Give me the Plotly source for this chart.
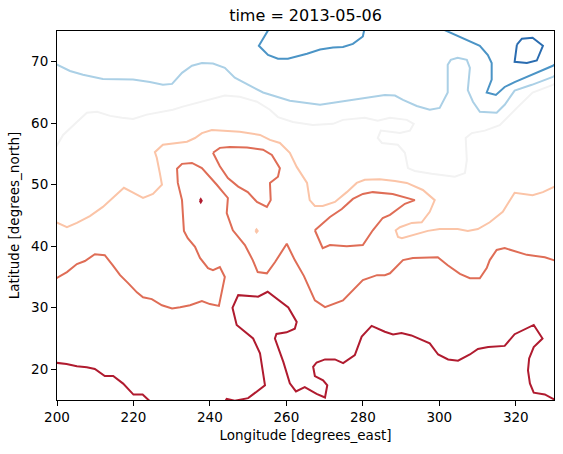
import plotly.graph_objects as go

# Contour levels (air temperature, K) and each traced contour path (lon, lat)
LEVELS = [240, 250, 260, 270, 280, 290, 300]

# level 240 (dark blue) closed loop
l240_a_lon = [320.3, 321.6, 324.4, 327.1, 325.5, 322.9, 319.7, 320.3]
l240_a_lat = [72.8, 73.75, 73.9, 72.6, 70.2, 69.8, 70.0, 72.8]

# level 250 (medium blue)
l250_a_lon = [255.4, 252.8, 255.2, 257.8, 260.4, 265.4, 268.8, 272.2, 274.8, 277.4, 280.0, 280.4]
l250_a_lat = [75.3, 72.6, 71.1, 70.5, 70.5, 71.3, 72.0, 72.3, 72.4, 72.9, 74.1, 75.3]
l250_b_lon = [301.2, 305.9, 310.6, 312.7, 313.7, 313.7, 312.4, 314.8, 317.1, 319.7, 324.4, 329.7, 330.5]
l250_b_lat = [75.2, 73.9, 72.6, 71.1, 69.8, 67.1, 65.0, 64.6, 65.9, 66.7, 67.9, 69.35, 69.7]

# level 260 (light blue)
l260_a_lon = [199.8, 203.4, 206.8, 212.0, 219.9, 224.3, 227.7, 230.1, 232.7, 235.3, 237.9, 240.8,
              243.9, 246.5, 253.9, 260.9, 268.8, 274.0, 280.0, 285.75, 288.4, 290.5, 294.1, 297.5,
              300.1, 302.2, 302.2, 303.0, 304.8, 307.2, 308.0, 307.45, 308.8, 310.6, 315.0, 317.1,
              319.7, 324.2, 329.7, 330.5]
l260_a_lat = [69.6, 68.5, 67.9, 67.2, 67.1, 66.7, 66.25, 66.4, 68.2, 69.35, 69.8, 69.7,
              69.0, 67.4, 65.0, 63.65, 63.0, 63.5, 64.1, 64.6, 64.5, 63.8, 62.8, 62.2,
              62.5, 65.0, 69.5, 70.3, 70.65, 70.3, 69.0, 65.4, 63.5, 61.85, 61.7, 63.0,
              65.3, 66.25, 67.55, 67.8]

# level 270 (near white)
l270_a_lon = [199.8, 201.6, 205.2, 207.8, 210.5, 213.9, 217.0, 219.9, 223.5, 226.9, 230.3, 232.9,
              236.6, 240.8, 243.9, 247.8, 252.3, 255.7, 257.8, 261.7, 266.9, 272.2, 274.8, 280.5,
              283.9, 287.1, 291.5, 293.3, 292.3, 289.7, 284.7, 283.9, 285.0, 289.15, 291.0, 291.8,
              293.6, 298.0, 304.05, 306.7, 307.2, 306.9, 308.5, 311.9, 315.8, 320.3, 324.4, 329.7, 330.5]
l270_a_lat = [56.2, 58.1, 60.2, 61.7, 61.85, 61.2, 60.9, 60.7, 61.4, 61.85, 62.2, 62.7,
              63.3, 64.1, 64.5, 64.3, 63.5, 62.2, 61.0, 60.2, 59.7, 59.9, 60.55, 60.9,
              60.4, 60.9, 60.55, 59.9, 58.8, 58.4, 58.8, 57.6, 56.8, 56.5, 55.2, 52.7,
              52.25, 51.8, 51.3, 51.9, 54.0, 57.6, 58.4, 58.8, 59.7, 62.5, 65.0, 66.25, 66.5]

# level 280 (light peach)
l280_a_lon = [199.8, 202.6, 205.2, 208.6, 212.0, 215.2, 217.5, 219.9, 222.5, 225.1, 227.45, 226.9,
              226.1, 225.6, 227.7, 231.4, 234.0, 236.1, 237.9, 240.5, 243.9, 247.8, 253.1, 255.7,
              258.3, 260.9, 262.7, 265.4, 266.1, 267.45, 269.5, 272.7, 275.8, 278.4, 280.5, 284.4,
              288.4, 291.5, 295.7, 298.8, 297.5, 295.4, 292.8, 289.7, 288.6, 289.2, 290.2, 293.1,
              297.0, 300.1, 304.8, 307.45, 310.1, 313.2, 316.6, 319.7, 321.6, 324.4, 327.1, 329.7, 330.5]
l280_a_lat = [43.9, 43.1, 43.8, 44.9, 46.4, 48.3, 49.5, 48.7, 47.85, 48.5, 50.0, 51.9,
              54.4, 55.3, 56.5, 56.8, 57.0, 57.6, 58.4, 58.9, 58.8, 58.6, 58.1, 57.3,
              56.8, 55.2, 52.9, 50.3, 47.5, 46.55, 46.55, 47.2, 48.8, 50.3, 50.8, 50.9,
              50.6, 50.3, 49.15, 47.5, 45.6, 43.9, 43.8, 43.1, 42.6, 41.5, 41.3, 41.8,
              42.5, 42.8, 42.8, 42.5, 42.8, 43.9, 45.6, 48.7, 48.5, 48.3, 48.8, 49.6, 49.8]
l280_b_lon = [251.9, 252.2, 252.5, 252.2, 251.9]
l280_b_lat = [42.5, 42.75, 42.5, 42.25, 42.5]

# level 290 (salmon)
l290_a_lon = [199.8, 202.6, 205.2, 207.3, 209.9, 212.5, 214.6, 216.5, 218.6, 220.9, 222.5, 224.8,
              227.45, 230.1, 232.2, 234.8, 237.9, 240.0, 242.35, 243.4, 243.9, 242.6, 240.8, 239.5,
              237.4, 236.1, 234.2, 233.2, 232.9, 232.7, 231.6, 231.4, 232.7, 235.3, 237.9, 240.0,
              241.8, 243.4, 244.7, 244.4, 246.0, 249.15, 251.2, 252.5, 254.9, 257.0, 260.1, 262.2,
              264.6, 267.45, 270.1, 274.8, 280.0, 283.7, 285.75, 287.1, 290.5, 293.1, 299.6, 302.2,
              305.4, 308.0, 310.6, 312.4, 313.2, 315.0, 317.1, 322.9, 327.6, 329.9, 330.5]
l290_a_lat = [34.8, 35.8, 37.1, 37.6, 38.7, 38.55, 36.9, 35.3, 34.0, 32.5, 31.7, 31.4,
              30.4, 29.9, 30.1, 30.4, 31.1, 30.6, 30.3, 33.2, 35.0, 36.6, 36.1, 36.45,
              38.1, 39.9, 41.3, 42.5, 45.1, 47.5, 50.3, 52.6, 53.4, 53.55, 52.7, 51.3,
              50.0, 48.8, 47.85, 45.4, 42.6, 40.2, 37.75, 35.8, 35.6, 37.4, 40.4, 37.75,
              35.15, 31.2, 30.1, 31.2, 34.5, 35.3, 35.3, 35.6, 37.75, 38.1, 38.2, 36.9,
              35.5, 34.8, 34.8, 36.45, 37.75, 39.4, 39.7, 38.6, 38.2, 37.75, 37.6]
l290_b_lon = [240.8, 242.6, 245.2, 249.7, 253.9, 256.2, 258.3, 257.8, 255.7, 255.9, 254.9,
              252.3, 249.9, 247.4, 244.7, 242.6, 240.8]
l290_b_lat = [55.2, 56.0, 56.15, 56.05, 55.7, 54.85, 52.7, 51.3, 50.3, 47.5, 46.4,
              47.2, 48.8, 49.7, 51.1, 53.0, 55.2]
l290_c_lon = [267.45, 271.4, 274.5, 277.4, 280.0, 282.6, 287.8, 290.5, 293.6, 291.0, 288.9, 287.1,
              285.2, 282.6, 280.0, 275.8, 271.4, 269.5, 267.45]
l290_c_lat = [42.6, 44.75, 46.05, 47.7, 48.5, 48.8, 48.5, 48.0, 47.5, 46.9, 45.9, 45.1,
              44.6, 42.6, 40.2, 40.0, 40.2, 39.7, 42.6]

# level 300 (dark red)
l300_a_lon = [199.8, 202.5, 205.2, 207.8, 209.9, 212.5, 214.7, 217.3, 220.0, 222.4, 224.3]
l300_a_lat = [21.05, 20.86, 20.5, 20.33, 20.05, 18.9, 18.9, 17.67, 15.88, 15.88, 14.8]
l300_b_lon = [244.0, 244.4, 246.5, 250.0, 254.4, 253.1, 251.3, 247.0, 245.9, 247.4, 252.6, 255.1,
              260.5, 262.7, 262.2, 260.05, 257.4, 257.0, 259.2, 260.9, 262.5, 264.8, 267.9, 270.1,
              270.7, 269.6, 267.45, 267.0, 267.9, 270.1, 272.7, 274.85, 277.9, 279.7, 282.3, 285.75,
              287.9, 290.1, 292.7, 297.5, 299.7, 302.3, 304.9, 308.0, 310.1, 312.8, 317.1, 319.7,
              324.7, 327.0, 324.7, 323.5, 323.2, 323.7, 324.7, 327.6, 329.75, 330.8]
l300_b_lat = [14.8, 15.2, 14.9, 15.3, 17.4, 22.6, 25.0, 27.2, 30.0, 32.05, 31.8, 32.6,
              30.05, 27.7, 26.6, 26.0, 25.75, 25.0, 21.2, 17.7, 16.4, 17.1, 16.0, 15.4,
              17.4, 18.2, 18.9, 20.4, 21.1, 21.6, 21.6, 21.0, 22.3, 25.3, 27.05, 26.1,
              25.65, 25.9, 25.5, 24.2, 22.4, 21.6, 21.4, 22.4, 23.3, 23.6, 23.8, 25.7,
              27.2, 25.0, 23.6, 21.75, 19.8, 17.7, 16.2, 15.9, 15.2, 14.9]
l300_c_lon = [237.35, 237.6, 237.85, 237.6, 237.35]
l300_c_lat = [47.4, 47.65, 47.4, 47.15, 47.4]

CONTOURS = [
    (240, l240_a_lon, l240_a_lat),
    (250, l250_a_lon, l250_a_lat), (250, l250_b_lon, l250_b_lat),
    (260, l260_a_lon, l260_a_lat),
    (270, l270_a_lon, l270_a_lat),
    (280, l280_a_lon, l280_a_lat), (280, l280_b_lon, l280_b_lat),
    (290, l290_a_lon, l290_a_lat), (290, l290_b_lon, l290_b_lat), (290, l290_c_lon, l290_c_lat),
    (300, l300_a_lon, l300_a_lat), (300, l300_b_lon, l300_b_lat), (300, l300_c_lon, l300_c_lat),
]

X_TICKS = [200, 220, 240, 260, 280, 300, 320]
Y_TICKS = [20, 30, 40, 50, 60, 70]

# style
LEVEL_COLORS = {240: "#2a6cb0", 250: "#4b94c6", 260: "#abd0e6", 270: "#f2f2f2",
                280: "#fbc4a7", 290: "#df6d56", 300: "#b01b2f"}

fig = go.Figure()
for lev, lon, lat in CONTOURS:
    fig.add_trace(go.Scatter(x=lon, y=lat, mode="lines",
                             line=dict(color=LEVEL_COLORS[lev], width=2),
                             showlegend=False, hoverinfo="skip"))

font_family = "DejaVu Sans"
axis_common = dict(showline=True, linecolor="black", linewidth=1, mirror=True,
                   ticks="outside", ticklen=5, tickwidth=1, tickcolor="black",
                   showgrid=False, zeroline=False,
                   tickfont=dict(family=font_family, size=13.5, color="black"))

fig.update_layout(
    width=563, height=454,
    margin=dict(l=57, r=9, t=31, b=54),
    paper_bgcolor="white", plot_bgcolor="white",
    title=dict(text="time = 2013-05-06", x=(57 + 554) / 2 / 563, xanchor="center",
               y=1 - 15 / 454, yanchor="middle", yref="container",
               font=dict(family=font_family, size=16, color="black")),
    xaxis=dict(range=[200, 330], tickvals=X_TICKS, ticktext=[str(v) for v in X_TICKS],
               title=dict(text="Longitude [degrees_east]", standoff=6,
                          font=dict(family=font_family, size=13.5, color="black")),
               **axis_common),
    yaxis=dict(range=[15, 75], tickvals=Y_TICKS, ticktext=[str(v) for v in Y_TICKS],
               title=dict(text="Latitude [degrees_north]", standoff=8,
                          font=dict(family=font_family, size=13.5, color="black")),
               **axis_common),
)

fig.write_html("out.html")
